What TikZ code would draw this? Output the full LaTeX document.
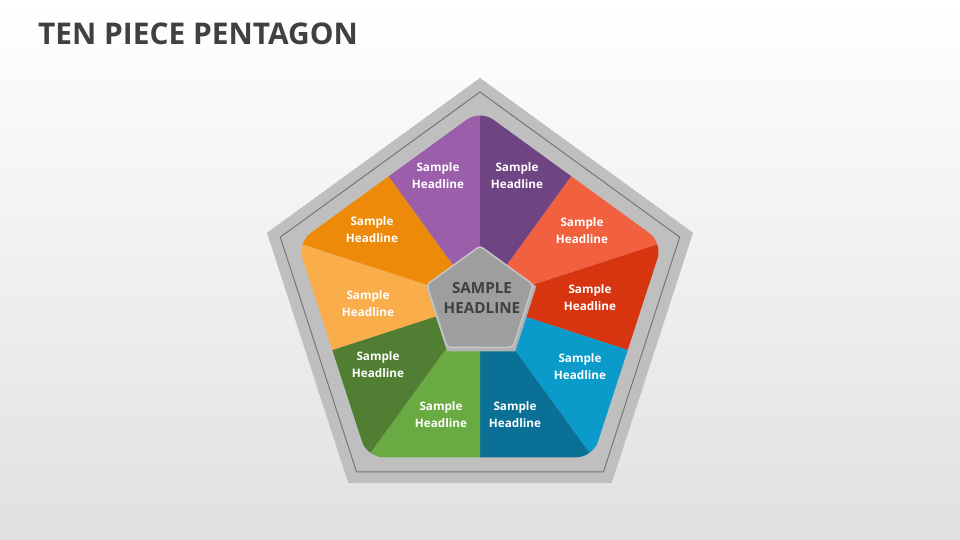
\documentclass[tikz,border=0pt]{standalone}
\usepackage{fontspec}
\setmainfont{Open Sans}
\definecolor{purA}{HTML}{9A5EAA}
\definecolor{purB}{HTML}{6E4483}
\definecolor{redA}{HTML}{F2613F}
\definecolor{redB}{HTML}{D6350F}
\definecolor{bluA}{HTML}{0B9BCB}
\definecolor{bluB}{HTML}{0A7096}
\definecolor{grnA}{HTML}{6AAA42}
\definecolor{grnB}{HTML}{527E33}
\definecolor{orgA}{HTML}{F9AD4B}
\definecolor{orgB}{HTML}{EE8A0A}
\definecolor{titlegray}{HTML}{404040}
\tikzset{
  piecelabel/.style={text=white, font=\bfseries\fontsize{10}{14.5}\selectfont, align=center},
}
\begin{document}
\begin{tikzpicture}[x=0.03cm,y=0.03cm]
\shade[top color=white, bottom color=black!12] (0,0) rectangle (960,540);
\useasboundingbox (0,0) rectangle (960,540);
\node[anchor=west, text=titlegray, font=\bfseries\fontsize{25.5}{30}\selectfont] (title) at (34,506) {TEN PIECE PENTAGON};
\begin{scope}[shift={(480,238)}]
% outer frame
\fill[black!25] (90:224) -- (162:224) -- (234:224) -- (306:224) -- (18:224) -- cycle;
\draw[black!55, line width=0.8pt] (90:210) -- (162:210) -- (234:210) -- (306:210) -- (18:210) -- cycle;
% ten pieces
\begin{scope}
\clip[rounded corners=14pt] (90:192) -- (162:192) -- (234:192) -- (306:192) -- (18:192) -- cycle;
\foreach \a/\c in {90/purB, 54/redA, 18/redB, -18/bluA, -54/bluB, -90/grnA, -126/grnB, -162/orgA, -198/orgB, -234/purA}
  \fill[\c] (0,0) -- (\a:260) -- ({\a-36}:260) -- cycle;
\end{scope}
% labels
\foreach \p/\n in {{(37,126)}/1, {(102,71)}/2, {(110,4)}/3, {(100,-65)}/4, {(35,-113)}/5, {(-39,-113)}/6, {(-102,-63)}/7, {(-112,-2)}/8, {(-108,72)}/9, {(-42,126)}/10}
  \node[piecelabel] (lab\n) at \p {Sample\\Headline};
% center
\fill[black!30, xshift=1pt, yshift=-2pt] (90:58) -- (162:58) -- (234:58) -- (306:58) -- (18:58) -- cycle;
\filldraw[fill=black!38, draw=black!22, line width=1.2pt, rounded corners=3pt] (90:56) -- (162:56) -- (234:56) -- (306:56) -- (18:56) -- cycle;
\node[text=titlegray, font=\bfseries\fontsize{13}{17}\selectfont, align=center] (center) at (2,4) {SAMPLE\\HEADLINE};
\end{scope}
\end{tikzpicture}
\end{document}
